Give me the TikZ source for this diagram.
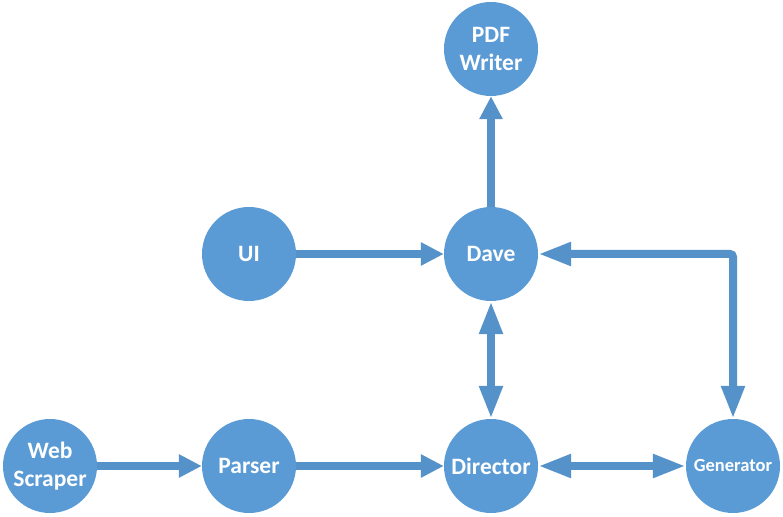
\documentclass[tikz,border=0pt]{standalone}
\usepackage{fontspec}
\setmainfont{Carlito}
\usetikzlibrary{arrows.meta}
\definecolor{nodeblue}{HTML}{5B9BD5}
\definecolor{linkblue}{HTML}{5692CA}
\tikzset{
  bubble/.style={circle, minimum size=94pt, inner sep=0pt, fill=nodeblue, text=white,
    font=\bfseries\fontsize{23.5}{28}\selectfont, align=center},
  small/.style={font=\bfseries\fontsize{18.5}{22}\selectfont},
  link/.style={draw=linkblue, line width=8pt, -{Triangle[length=23pt,width=22pt]}},
  longlink/.style={draw=linkblue, line width=8pt, -{Triangle[length=33pt,width=22pt]}},
  dbllink/.style={draw=linkblue, line width=8pt, {Triangle[length=33pt,width=22pt]}-{Triangle[length=33pt,width=22pt]}}
}
\begin{document}
\begin{tikzpicture}[x=1pt,y=1pt]
\useasboundingbox (0,0) rectangle (783,516);
\node[bubble] (pdf) at (491,467) {PDF\\Writer};
\node[bubble] (dave) at (491,262) {Dave};
\node[bubble] (ui) at (249,262) {UI};
\node[bubble] (web) at (50,50) {Web\\Scraper};
\node[bubble] (parser) at (249,50) {Parser};
\node[bubble] (director) at (491,50) {Director};
\node[bubble, small] (gen) at (733,50) {Generator};
\coordinate (corner) at (733,262);

\draw[link] (ui) -- (dave);
\draw[link] (dave) -- (pdf);
\draw[dbllink] (dave) -- (director);
\draw[link] (web) -- (parser);
\draw[link] (parser) -- (director);
\draw[dbllink] (director) -- (gen);
\draw[dbllink, rounded corners=3pt] (dave.east) -- (corner) -- (gen.north);
\end{tikzpicture}
\end{document}
